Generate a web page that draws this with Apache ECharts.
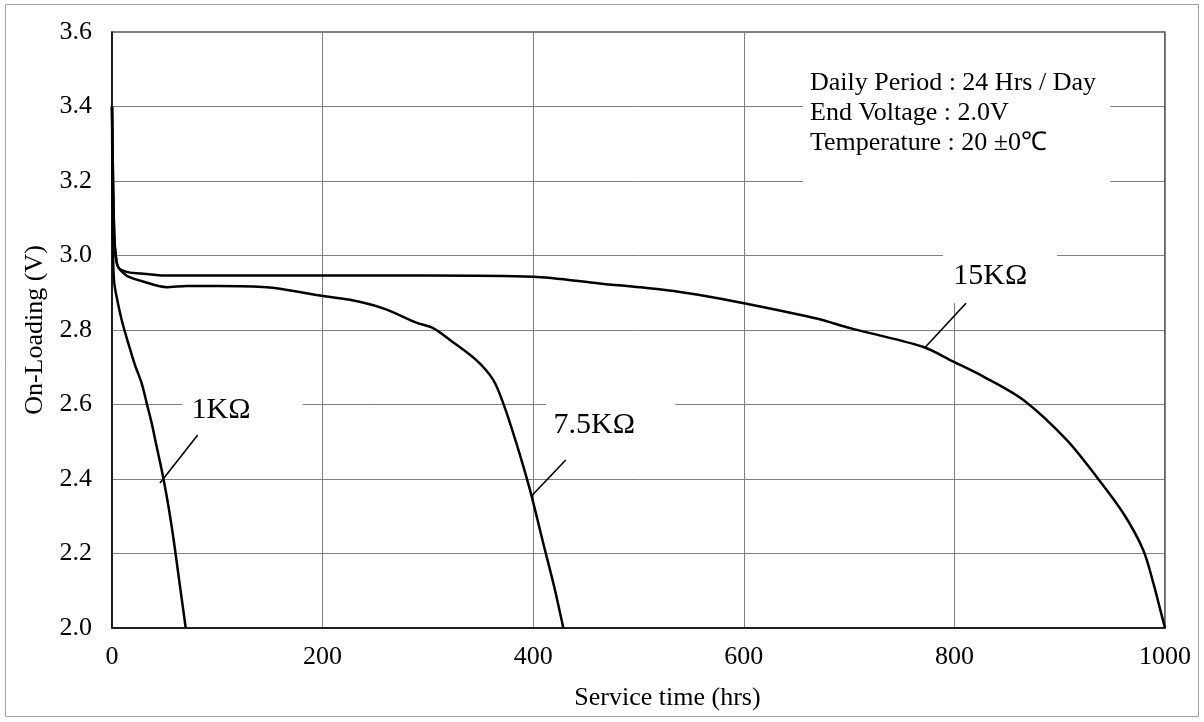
<!DOCTYPE html>
<html>
<head>
<meta charset="utf-8">
<script src="https://cdn.jsdelivr.net/npm/echarts@6/dist/echarts.min.js"></script>
<style>
html,body{margin:0;padding:0;background:#fff;}
#c{width:1204px;height:722px;}
</style>
</head>
<body>
<div id="c"></div>
<script>
// ---- data ----
var xTicks = [0, 200, 400, 600, 800, 1000];
var yTicks = [2.0, 2.2, 2.4, 2.6, 2.8, 3.0, 3.2, 3.4, 3.6];

var k1_x = [0, 0.5, 1.0, 2.0, 4.4, 9.2, 15.5, 21.8, 28.2, 33, 37.7, 42.4, 47.2, 52, 56.7, 60.8, 64.6, 67.7, 70];
var k1_y = [3.40, 3.15, 3.00, 2.93, 2.889, 2.827, 2.764, 2.706, 2.657, 2.603, 2.55, 2.487, 2.424, 2.353, 2.272, 2.191, 2.111, 2.048, 2.0];

var k75_x = [0, 1, 2.2, 3.5, 5, 7.6, 15, 29.7, 52, 71, 100, 147, 194, 226, 257.6, 289, 305, 321, 346, 362, 371.6, 384, 397, 409.6, 420, 428.6];
var k75_y = [3.40, 3.20, 3.05, 3.00, 2.975, 2.962, 2.944, 2.93, 2.915, 2.918, 2.918, 2.915, 2.894, 2.881, 2.858, 2.82, 2.805, 2.773, 2.719, 2.666, 2.603, 2.496, 2.37, 2.227, 2.11, 2.0];

var k15_x = [0, 1, 2.2, 3.5, 5, 7.6, 17, 27, 50, 100, 226, 300, 400, 463, 527, 558, 600, 669, 701, 770, 799, 827.5, 865.5, 906.6, 935, 960.4, 979.4, 989, 995.6, 1000];
var k15_y = [3.40, 3.20, 3.05, 3.00, 2.975, 2.963, 2.954, 2.952, 2.946, 2.946, 2.946, 2.946, 2.943, 2.925, 2.907, 2.894, 2.872, 2.831, 2.805, 2.755, 2.715, 2.675, 2.612, 2.505, 2.406, 2.308, 2.209, 2.12, 2.048, 2.0];

var seriesNames = ['1KΩ', '7.5KΩ', '15KΩ'];
// leader lines: [x1, y1, x2, y2]
var leader1 = [45.6, 2.389, 81.4, 2.518];
var leader75 = [397.9, 2.353, 430.9, 2.451];
var leader15 = [771.4, 2.751, 811, 2.872];
// label text centres (data coords)
var labelPos1 = [103.5, 2.585];
var labelPos75 = [458, 2.545];
var labelPos15 = [834, 2.944];
// white boxes behind labels: [[x1,y1],[x2,y2]]
var box1 = [[67, 2.65], [181, 2.52]];
var box75 = [[412, 2.62], [535, 2.48]];
var box15 = [[789.2, 3.2], [897.4, 2.872]];

var infoLines = ['Daily Period : 24 Hrs / Day', 'End Voltage : 2.0V', 'Temperature : 20 \u00B10\u2103'];

function zip(xs, ys){ return xs.map(function(x,i){ return [x, ys[i]]; }); }

var FONT = '"Liberation Serif", "Times New Roman", serif';

function lbl(pos, text){
  return {
    symbol: 'circle', symbolSize: 0,
    data: [{coord: pos, value: text}],
    label: {
      show: true, position: 'inside', formatter: text,
      fontFamily: FONT, fontSize: 30, lineHeight: 30, color: '#000'
    },
    itemStyle: {color: 'transparent'},
    silent: true
  };
}
function area(b){
  return {
    silent: true,
    itemStyle: {color: '#fff', opacity: 1},
    data: [[{coord: b[0]}, {coord: b[1]}]]
  };
}

function curve(name, xs, ys, mp, ma){
  return {
    name: name, type: 'line', data: zip(xs, ys),
    showSymbol: false, smooth: 0.3,
    lineStyle: {color: '#000', width: 2.5},
    z: 3, silent: true, animation: false,
    markPoint: mp, markArea: ma
  };
}
function leader(l){
  return {
    type: 'line', data: [[l[0], l[1]], [l[2], l[3]]],
    showSymbol: false, lineStyle: {color: '#000', width: 1.6},
    z: 4, silent: true, animation: false
  };
}

var chart = echarts.init(document.getElementById('c'), null, {renderer: 'canvas'});
chart.setOption({
  animation: false,
  backgroundColor: '#fff',
  grid: {left: 112, right: 39, top: 32, bottom: 94, show: true, borderColor: '#000', borderWidth: 1.2, backgroundColor: 'transparent'},
  xAxis: {
    type: 'value', min: xTicks[0], max: xTicks[xTicks.length-1], interval: 200,
    name: 'Service time (hrs)', nameLocation: 'middle', nameGap: 57,
    nameTextStyle: {fontFamily: FONT, fontSize: 26, color: '#000', padding: [0,0,0,58]},
    axisLine: {show: true, lineStyle: {color: '#000', width: 1.5}},
    axisTick: {show: false},
    axisLabel: {fontFamily: FONT, fontSize: 26, color: '#000', margin: 16,
      formatter: function(v){ return String(v); }},
    splitLine: {show: true, lineStyle: {color: '#7f7f7f', width: 1}}
  },
  yAxis: {
    type: 'value', min: yTicks[0], max: yTicks[yTicks.length-1], interval: 0.2,
    name: 'On-Loading (V)', nameLocation: 'middle', nameGap: 52,
    nameTextStyle: {fontFamily: FONT, fontSize: 26, color: '#000'},
    axisLine: {show: true, lineStyle: {color: '#000', width: 1.5}},
    axisTick: {show: false},
    axisLabel: {fontFamily: FONT, fontSize: 26, color: '#000', margin: 20,
      formatter: function(v){ return v.toFixed(1); }},
    splitLine: {show: true, lineStyle: {color: '#7f7f7f', width: 1}}
  },
  graphic: [
    {type: 'rect', shape: {x: 5.5, y: 4.5, width: 1193, height: 712}, style: {fill: 'none', stroke: '#a0a0a0', lineWidth: 1}, z: 0, silent: true},
    {type: 'rect', shape: {x: 803, y: 33, width: 307, height: 149}, style: {fill: '#fff'}, z: 10, silent: true},
    {type: 'text', left: 810, top: 70, style: {text: infoLines[0], font: '26px ' + FONT, fill: '#000'}, z: 11, silent: true},
    {type: 'text', left: 810, top: 100, style: {text: infoLines[1], font: '26px ' + FONT, fill: '#000'}, z: 11, silent: true},
    {type: 'text', left: 810, top: 130, style: {text: infoLines[2], font: '26px ' + FONT, fill: '#000'}, z: 11, silent: true}
  ],
  series: [
    curve(seriesNames[0], k1_x, k1_y, lbl(labelPos1, seriesNames[0]), area(box1)),
    curve(seriesNames[1], k75_x, k75_y, lbl(labelPos75, seriesNames[1]), area(box75)),
    curve(seriesNames[2], k15_x, k15_y, lbl(labelPos15, seriesNames[2]), area(box15)),
    leader(leader1), leader(leader75), leader(leader15)
  ]
});
</script>
</body>
</html>
